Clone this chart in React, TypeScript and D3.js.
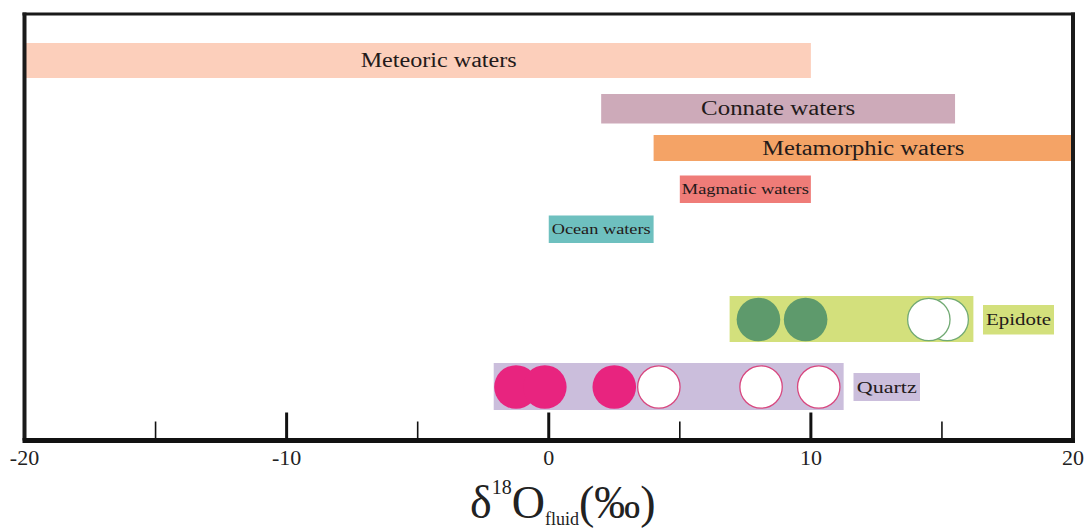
import React from "react";
import * as d3 from "d3";

// ---- data ----
const waterNames = ["Meteoric waters", "Connate waters", "Metamorphic waters", "Magmatic waters", "Ocean waters"];
const waterMin = [-20, 2, 4, 5, 0];
const waterMax = [10, 15.5, 20, 10, 4];
const waterColors = ["#fccfbb", "#cdaab9", "#f4a366", "#ef7c78", "#6ec0bf"];

const mineralNames = ["Epidote", "Quartz"];
const mineralMin = [6.9, -2.1];
const mineralMax = [16.2, 11.25];
const mineralBarColors = ["#d3e07c", "#cbbedc"];
const mineralDotColors = ["#5e9a6c", "#e8247f"];
const mineralOpenStroke = ["#72aa74", "#d8477f"];
const epidoteFilled = [8.0, 9.8];
const epidoteOpen = [14.5, 15.2];
const quartzFilled = [-1.25, -0.15, 2.5];
const quartzOpen = [4.2, 8.1, 10.3];

const majorTicks = [-10, 0, 10];
const minorTicks = [-15, -5, 5, 15];
const tickLabels = ["-20", "-10", "0", "10", "20"];
const tickLabelValues = [-20, -10, 0, 10, 20];

// ---- layout ----
const W = 1089, H = 529;
const X0 = 24.5, X1 = 1073, TOP = 14, AXIS_Y = 440.5;
const waterRows = [
  { y0: 43, y1: 78, font: 20, labelAt: -4.2, len: 156 },
  { y0: 94, y1: 123.5, font: 20, labelAt: null, len: 154 },
  { y0: 135, y1: 161, font: 20, labelAt: null, len: 202 },
  { y0: 175.5, y1: 203, font: 15, labelAt: null, len: 127 },
  { y0: 215.5, y1: 243, font: 14, labelAt: null, len: 99 },
];
const mineralRows = [
  { y0: 296, y1: 342, cy: 319.5, box: [983, 1054], boxY: [305, 334.5], len: 65 },
  { y0: 363, y1: 410, cy: 387, box: [853.5, 920], boxY: [373, 401], len: 60 },
];
const R = 21.8;
const TEXT = "#231a1a";
const SERIF = '"Liberation Serif", "Times New Roman", serif';

export default function App() {
  const x = d3.scaleLinear().domain([-20, 20]).range([X0, X1]);
  const filledSets = [epidoteFilled, quartzFilled];
  const openSets = [epidoteOpen, quartzOpen];

  return (
    <svg width={W} height={H} style={{ position: "absolute", left: 0, top: 0, background: "#fff", fontFamily: SERIF }}>
      {/* water bars */}
      {waterNames.map((name, i) => {
        const r = waterRows[i];
        const a = x(waterMin[i]), b = x(waterMax[i]);
        const cx = r.labelAt !== null ? x(r.labelAt) : (a + b) / 2;
        const cy = (r.y0 + r.y1) / 2;
        return (
          <g key={name}>
            <rect x={a} y={r.y0} width={b - a} height={r.y1 - r.y0} fill={waterColors[i]} />
            <text x={cx} y={cy + r.font * 0.33} textAnchor="middle" style={{ fontFamily: SERIF }}
              fontSize={r.font} fill={TEXT} textLength={r.len} lengthAdjust="spacingAndGlyphs">{name}</text>
          </g>
        );
      })}

      {/* mineral bars */}
      {mineralNames.map((name, i) => {
        const r = mineralRows[i];
        const a = x(mineralMin[i]), b = x(mineralMax[i]);
        const opens = [...openSets[i]].reverse();
        return (
          <g key={name}>
            <rect x={a} y={r.y0} width={b - a} height={r.y1 - r.y0} fill={mineralBarColors[i]} />
            {filledSets[i].map((v, k) => (
              <ellipse key={"f" + k} cx={x(v)} cy={r.cy} rx={R} ry={R} fill={mineralDotColors[i]} />
            ))}
            {opens.map((v, k) => (
              <ellipse key={"o" + k} cx={x(v)} cy={r.cy} rx={R - 0.6} ry={R - 0.6} fill="#fff"
                stroke={mineralOpenStroke[i]} strokeWidth={1.3} />
            ))}
            <rect x={r.box[0]} y={r.boxY[0]} width={r.box[1] - r.box[0]} height={r.boxY[1] - r.boxY[0]}
              fill={mineralBarColors[i]} />
            <text x={(r.box[0] + r.box[1]) / 2} y={(r.boxY[0] + r.boxY[1]) / 2 + 5.5} textAnchor="middle"
              style={{ fontFamily: SERIF }} fontSize={16} fill={TEXT} textLength={r.len} lengthAdjust="spacingAndGlyphs">{name}</text>
          </g>
        );
      })}

      {/* frame */}
      <line x1={X0} x2={X0} y1={TOP - 1.5} y2={AXIS_Y} stroke="#1a1a1a" strokeWidth={4} />
      <line x1={X1} x2={X1} y1={TOP - 1.5} y2={AXIS_Y} stroke="#1a1a1a" strokeWidth={4} />
      <line x1={X0 - 2} x2={X1 + 2} y1={TOP} y2={TOP} stroke="#1a1a1a" strokeWidth={3} />
      {majorTicks.map((t) => (
        <line key={"M" + t} x1={x(t)} x2={x(t)} y1={AXIS_Y} y2={AXIS_Y - 28} stroke="#111" strokeWidth={3} />
      ))}
      {minorTicks.map((t) => (
        <line key={"m" + t} x1={x(t)} x2={x(t)} y1={AXIS_Y} y2={AXIS_Y - 19} stroke="#111" strokeWidth={1.6} />
      ))}
      <line x1={X0 - 2} x2={X1 + 2} y1={AXIS_Y} y2={AXIS_Y} stroke="#111" strokeWidth={5} />

      {tickLabels.map((lab, i) => (
        <text key={lab} x={x(tickLabelValues[i])} y={465} textAnchor="middle" style={{ fontFamily: SERIF }}
          fontSize={22} fill="#222">{lab}</text>
      ))}

      {/* axis title */}
      <text x={470} y={518} style={{ fontFamily: SERIF }} fill="#222">
        <tspan fontSize={46}>δ</tspan>
        <tspan fontSize={20} dy={-24}>18</tspan>
        <tspan fontSize={46} dy={24}>O</tspan>
        <tspan fontSize={18} dy={7}>fluid</tspan>
        <tspan fontSize={46} dy={-7}>(‰)</tspan>
      </text>
    </svg>
  );
}
